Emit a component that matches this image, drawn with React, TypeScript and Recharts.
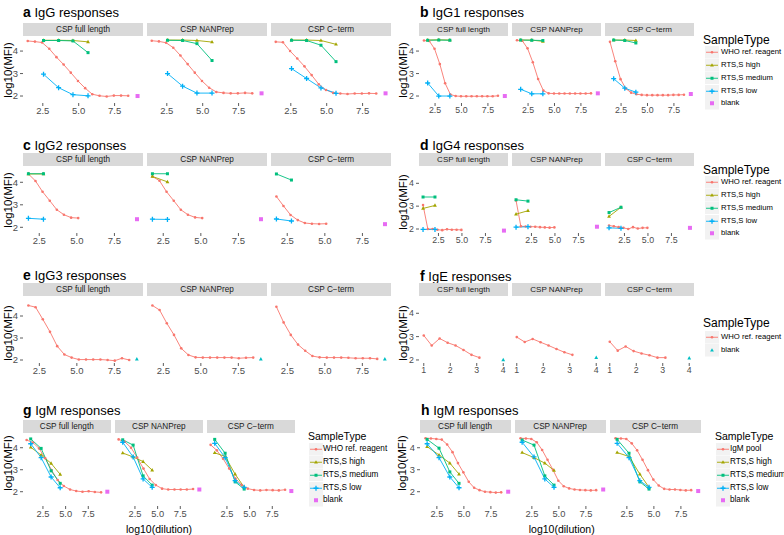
import { LineChart, Line, XAxis, YAxis } from "recharts";

const FONT = "'Liberation Sans', Arial, Helvetica, sans-serif";

const RED = "#F8766D";
const OLIVE = "#A3A500";
const GREEN = "#00BF7D";
const BLUE = "#00B0F6";
const PINK = "#E76BF3";
const TEAL = "#00BFC4";

const STRIPS = ["CSP full length", "CSP NANPrep", "CSP C\u2212term"];

// a: IgG
const aWhoX = [1.45, 1.95, 2.45, 2.95, 3.45, 3.95, 4.45, 4.95, 5.45, 5.95, 6.45, 6.95, 7.45, 7.95, 8.45];
const aRtsX = [2.55, 3.6, 4.6, 5.65];
const aWho = [
  [4.45, 4.42, 4.38, 4.1, 3.73, 3.4, 3.04, 2.67, 2.35, 2.08, 2.01, 1.98, 2.02, 2.02, 2.01],
  [4.46, 4.43, 4.37, 4.15, 3.8, 3.42, 3.04, 2.67, 2.37, 2.18, 2.14, 2.12, 2.12, 2.14, 2.12],
  [4.41, 4.39, 4.0, 3.67, 3.32, 2.93, 2.52, 2.27, 2.14, 2.11, 2.09, 2.11, 2.11, 2.12, 2.11],
];
const aHigh = [[4.48, 4.48, 4.47, 4.41], [4.49, 4.49, 4.47, 4.4], [4.49, 4.49, 4.47, 4.3]];
const aMed = [[4.47, 4.47, 4.45, 3.93], [4.48, 4.47, 4.33, 3.58], [4.48, 4.47, 4.26, 3.53]];
const aLow = [[2.97, 2.37, 2.06, 2.01], [3.0, 2.44, 2.13, 2.13], [3.22, 2.78, 2.36, 2.12]];
const aBlank = [2.0, 2.12, 2.12];

// b: IgG1
const bWhoX = [1.45, 1.95, 2.45, 2.95, 3.45, 3.95, 4.45, 4.95, 5.45, 5.95, 6.45, 6.95, 7.45, 7.95, 8.45];
const bRtsX = [1.8, 2.85, 3.9];
const bWho = [
  [4.47, 4.45, 4.1, 3.42, 2.57, 2.07, 2.0, 1.99, 1.99, 1.99, 1.99, 1.99, 1.99, 1.99, 2.01],
  [4.48, 4.46, 4.12, 3.5, 2.76, 2.24, 2.12, 2.11, 2.11, 2.11, 2.11, 2.11, 2.11, 2.11, 2.12],
  [4.41, 3.55, 2.75, 2.33, 2.15, 2.08, 2.05, 2.04, 2.04, 2.04, 2.04, 2.04, 2.05, 2.05, 2.06],
];
const bHigh = [[4.49, 4.5, 4.49], [4.49, 4.49, 4.43], [4.49, 4.49, 4.47]];
const bMed = [[4.48, 4.49, 4.48], [4.49, 4.48, 4.47], [4.49, 4.47, 4.36]];
const bLow = [[2.58, 2.0, 2.0], [2.3, 2.1, 2.1], [2.77, 2.35, 2.17]];
const bBlank = [2.0, 2.12, 2.09];

// c: IgG2
const cWhoX = [1.78, 2.25, 2.72, 3.2, 3.67, 4.14, 4.62, 5.09];
const cRtsX = [1.78, 2.78];
const cWho = [
  [4.37, 4.06, 3.58, 3.18, 2.78, 2.56, 2.43, 2.41],
  [4.26, 4.07, 3.58, 3.18, 2.78, 2.56, 2.44, 2.41],
  [3.37, 2.95, 2.55, 2.32, 2.19, 2.16, 2.15, 2.16],
];
const cHigh = [[4.37, 4.37], [4.26, 4.02], []];
const cMed = [[4.38, 4.38], [4.38, 4.38], [4.37, 4.1]];
const cLow = [[2.4, 2.36], [2.36, 2.35], [2.37, 2.28]];
const cBlank = [2.36, 2.36, 2.14];

// d: IgG4
const dWhoX = [0.86, 1.37, 1.88, 2.39, 2.9, 3.41, 3.92, 4.43, 4.94];
const dRtsX = [0.86, 2.13];
const dWho = [
  [3.05, 2.0, 2.0, 1.97, 1.95, 1.99, 1.97, 1.97, 1.96],
  [3.25, 2.12, 2.11, 2.1, 2.1, 2.08, 2.07, 2.06, 2.07],
  [2.15, 2.12, 2.08, 2.05, 2.0, 2.08, 2.02, 2.05, 2.05],
];
const dHigh = [[2.9, 3.03], [2.65, 2.8], [2.55, 2.95]];
const dMed = [[3.4, 3.4], [3.28, 3.22], [2.72, 2.95]];
const dLow = [[1.98, 1.98], [2.08, 2.1], [2.05, 2.03]];
const dBlank = [1.93, 2.1, 2.05];

// e: IgG3
const eWhoX = [1.77, 2.25, 2.73, 3.21, 3.69, 4.17, 4.65, 5.13, 5.61, 6.09, 6.57, 7.05, 7.53, 8.01, 8.49];
const eWho = [
  [4.48, 4.4, 3.85, 3.28, 2.63, 2.25, 2.11, 2.02, 2.02, 2.02, 2.02, 2.0, 1.97, 2.08, 2.0],
  [4.48, 4.27, 3.67, 3.14, 2.53, 2.23, 2.12, 2.11, 2.11, 2.11, 2.11, 2.11, 2.08, 2.1, 2.11],
  [4.42, 3.71, 3.14, 2.7, 2.42, 2.18, 2.12, 2.11, 2.11, 2.11, 2.1, 2.08, 2.08, 2.08, 2.05],
];
const eBlank = [2.04, 2.04, 2.04];

// f: IgE
const fWhoX = [1.0, 1.3, 1.6, 1.9, 2.2, 2.5, 2.8, 3.1];
const fWho = [
  [3.05, 2.62, 2.92, 2.74, 2.62, 2.43, 2.22, 2.1],
  [2.98, 2.77, 2.9, 2.76, 2.62, 2.47, 2.33, 2.22],
  [2.78, 2.4, 2.58, 2.38, 2.28, 2.2, 2.1, 2.1],
];
const fBlank = [2.0, 2.1, 2.08];

// g: IgM vs WHO reagent
const gWhoX = [0.7, 1.38, 2.07, 2.75, 3.44, 4.12, 4.8, 5.49, 6.17, 6.86, 7.54, 8.22, 8.91];
const gRtsX = [1.15, 2.3, 3.4, 4.4];
const gWho = [
  [4.35, 4.24, 3.97, 3.52, 2.99, 2.53, 2.26, 2.1, 2.03, 2.0, 2.02, 1.99, 1.97],
  [4.38, 4.27, 4.0, 3.55, 3.05, 2.58, 2.3, 2.14, 2.1, 2.1, 2.1, 2.1, 2.12],
  [4.13, 3.88, 3.5, 3.05, 2.6, 2.3, 2.14, 2.08, 2.06, 2.08, 2.07, 2.06, 2.09],
];
const gHigh = [[4.02, 3.67, 3.29, 2.79], [3.76, 3.58, 3.37, 2.98], [3.77, 3.6, 2.8, 2.2]];
const gMed = [[4.4, 3.97, 2.95, 2.38], [4.36, 4.12, 2.72, 2.3], [4.38, 3.75, 2.45, 2.12]];
const gLow = [[4.18, 3.55, 2.67, 2.18], [4.25, 3.58, 2.58, 2.2], [4.2, 3.55, 2.5, 2.2]];
const gBlank = [2.0, 2.1, 2.03];

// h: IgM vs IgM pool
const hPoolX = [1.45, 1.95, 2.45, 2.95, 3.45, 3.95, 4.45, 4.95, 5.45, 5.95, 6.45, 6.95, 7.45, 7.95, 8.45];
const hRtsX = [1.6, 2.7, 3.7, 4.55];
const hPool = [
  [4.43, 4.42, 4.4, 4.37, 4.15, 3.8, 3.3, 2.88, 2.45, 2.18, 2.07, 2.0, 1.98, 1.96, 1.97],
  [4.43, 4.42, 4.4, 4.25, 3.9, 3.45, 3.0, 2.5, 2.25, 2.15, 2.1, 2.08, 2.07, 2.06, 2.07],
  [4.43, 4.42, 4.4, 4.2, 3.88, 3.45, 2.98, 2.55, 2.28, 2.13, 2.1, 2.1, 2.08, 2.06, 2.07],
];
const hHigh = [[4.05, 3.67, 3.3, 2.8], [3.78, 3.55, 3.3, 2.97], [3.78, 3.6, 2.8, 2.2]];
const hMed = [[4.38, 3.98, 2.9, 2.38], [4.35, 4.12, 2.72, 2.3], [4.38, 3.75, 2.45, 2.12]];
const hLow = [[4.18, 3.55, 2.67, 2.18], [4.25, 3.58, 2.58, 2.2], [4.2, 3.55, 2.5, 2.2]];
const hBlank = [2.0, 2.1, 2.03];

type Shape = "circle" | "triangle" | "square" | "plus" | "box";
type Series = { xs: number[]; ys: number[]; color: string; shape: Shape; line: boolean };
type LegendItem = { label: string; color: string; shape: Shape; line: boolean };

function Marker({ cx, cy, shape, color }: { cx?: number; cy?: number; shape: Shape; color: string }) {
  if (cx == null || cy == null) return null;
  if (shape === "circle") return <circle cx={cx} cy={cy} r={1.3} fill={color} />;
  if (shape === "triangle")
    return <path d={`M${cx},${cy - 2.1}L${cx + 1.9},${cy + 1.3}L${cx - 1.9},${cy + 1.3}Z`} fill={color} />;
  if (shape === "square") return <rect x={cx - 1.5} y={cy - 1.5} width={3} height={3} fill={color} />;
  if (shape === "plus")
    return (
      <path d={`M${cx - 2.5},${cy}H${cx + 2.5}M${cx},${cy - 2.5}V${cy + 2.5}`} stroke={color} strokeWidth={1.3} fill="none" />
    );
  return <rect x={cx - 2} y={cy - 2} width={4} height={4} fill={color} />;
}

// five sample groups for one facet
function fiveGroups(
  whoX: number[], who: number[], rtsX: number[], high: number[], med: number[], low: number[],
  blankX: number, blank: number,
): Series[] {
  return [
    { xs: whoX, ys: who, color: RED, shape: "circle", line: true },
    { xs: rtsX, ys: high, color: OLIVE, shape: "triangle", line: true },
    { xs: rtsX, ys: med, color: GREEN, shape: "square", line: true },
    { xs: rtsX, ys: low, color: BLUE, shape: "plus", line: true },
    { xs: [blankX], ys: [blank], color: PINK, shape: "box", line: false },
  ];
}

function twoGroups(whoX: number[], who: number[], blankX: number, blank: number): Series[] {
  return [
    { xs: whoX, ys: who, color: RED, shape: "circle", line: true },
    { xs: [blankX], ys: [blank], color: TEAL, shape: "triangle", line: false },
  ];
}

const fiveLegend = (first: string): LegendItem[] => [
  { label: first, color: RED, shape: "circle", line: true },
  { label: "RTS,S high", color: OLIVE, shape: "triangle", line: true },
  { label: "RTS,S medium", color: GREEN, shape: "square", line: true },
  { label: "RTS,S low", color: BLUE, shape: "plus", line: true },
  { label: "blank", color: PINK, shape: "box", line: false },
];

const twoLegend: LegendItem[] = [
  { label: "WHO ref. reagent", color: RED, shape: "circle", line: true },
  { label: "blank", color: TEAL, shape: "triangle", line: false },
];

const facetIdx = [0, 1, 2];

interface PanelDef {
  letter: string;
  name: string;
  titleX: number;
  titleY: number;
  stripTop: number;
  plotTop: number;
  plotH: number;
  lefts: number[];
  width: number;
  xDomain: [number, number];
  yDomain: [number, number];
  xTicks: number[];
  yTitle: [number, number];
  tickFont: number;
  stripFont: number;
  series: Series[][];
  legend?: {
    titleX: number; titleY: number; titleSize: number; textSize: number;
    rowY: number; keyX: number; textX: number; items: LegendItem[];
  };
  xTitle?: [number, number];
}

const LEFT = [23, 147, 271];
const RIGHT = [419, 512, 605];

const panels: PanelDef[] = [
  {
    letter: "a", name: "IgG responses", titleX: 23, titleY: 12, stripTop: 23, plotTop: 36, plotH: 67,
    lefts: LEFT, width: 120, xDomain: [1.12, 9.48], yDomain: [1.69, 4.67], xTicks: [2.5, 5, 7.5],
    yTitle: [7.5, 70], tickFont: 9.5, stripFont: 8.2,
    series: facetIdx.map((i) => fiveGroups(aWhoX, aWho[i], aRtsX, aHigh[i], aMed[i], aLow[i], 9.1, aBlank[i])),
  },
  {
    letter: "b", name: "IgG1 responses", titleX: 420, titleY: 12, stripTop: 23, plotTop: 36, plotH: 67,
    lefts: RIGHT, width: 89, xDomain: [0.98, 9.4], yDomain: [1.69, 4.67], xTicks: [2.5, 5, 7.5],
    yTitle: [403, 70], tickFont: 8.8, stripFont: 8,
    series: facetIdx.map((i) => fiveGroups(bWhoX, bWho[i], bRtsX, bHigh[i], bMed[i], bLow[i], 9.1, bBlank[i])),
    legend: { titleX: 703, titleY: 40, titleSize: 12, textSize: 7.7, rowY: 52.5, keyX: 705, textX: 721, items: fiveLegend("WHO ref. reagent") },
  },
  {
    letter: "c", name: "IgG2 responses", titleX: 23, titleY: 145, stripTop: 153, plotTop: 166, plotH: 67,
    lefts: LEFT, width: 120, xDomain: [1.42, 9.4], yDomain: [1.747, 4.724], xTicks: [2.5, 5, 7.5],
    yTitle: [7.5, 200], tickFont: 9.5, stripFont: 8.2,
    series: facetIdx.map((i) => fiveGroups(cWhoX, cWho[i], cRtsX, cHigh[i], cMed[i], cLow[i], 9.0, cBlank[i])),
  },
  {
    letter: "d", name: "IgG4 responses", titleX: 420, titleY: 145, stripTop: 153, plotTop: 166, plotH: 67,
    lefts: RIGHT, width: 89, xDomain: [0.43, 9.9], yDomain: [1.825, 4.757], xTicks: [2.5, 5, 7.5],
    yTitle: [403, 202], tickFont: 8.8, stripFont: 8,
    series: facetIdx.map((i) => fiveGroups(dWhoX, dWho[i], dRtsX, dHigh[i], dMed[i], dLow[i], 9.47, dBlank[i])),
    legend: { titleX: 703, titleY: 170, titleSize: 12, textSize: 7.7, rowY: 182.5, keyX: 705, textX: 721, items: fiveLegend("WHO ref. reagent") },
  },
  {
    letter: "e", name: "IgG3 responses", titleX: 23, titleY: 275, stripTop: 283, plotTop: 296, plotH: 67,
    lefts: LEFT, width: 120, xDomain: [1.41, 9.41], yDomain: [1.864, 4.909], xTicks: [2.5, 5, 7.5],
    yTitle: [7.5, 333], tickFont: 9.5, stripFont: 8.2,
    series: facetIdx.map((i) => twoGroups(eWhoX, eWho[i], 9.0, eBlank[i])),
  },
  {
    letter: "f", name: "IgE responses", titleX: 420, titleY: 276, stripTop: 283, plotTop: 296, plotH: 67,
    lefts: RIGHT, width: 89, xDomain: [0.82, 4.18], yDomain: [1.87, 4.74], xTicks: [1, 2, 3, 4],
    yTitle: [403, 333], tickFont: 8.8, stripFont: 8,
    series: facetIdx.map((i) => twoGroups(fWhoX, fWho[i], 4.0, fBlank[i])),
    legend: { titleX: 703, titleY: 323, titleSize: 12, textSize: 7.7, rowY: 337.5, keyX: 705, textX: 721, items: twoLegend },
  },
  {
    letter: "g", name: "IgM responses", titleX: 23, titleY: 410, stripTop: 420, plotTop: 433, plotH: 73,
    lefts: [23, 115, 207], width: 87.5, xDomain: [0.3, 9.95], yDomain: [1.35, 4.67], xTicks: [2.5, 5, 7.5],
    yTitle: [7.5, 463], tickFont: 9.3, stripFont: 8.2,
    series: facetIdx.map((i) => fiveGroups(gWhoX, gWho[i], gRtsX, gHigh[i], gMed[i], gLow[i], 9.6, gBlank[i])),
    legend: { titleX: 308, titleY: 436, titleSize: 10.5, textSize: 8.2, rowY: 449.5, keyX: 308.5, textX: 323, items: fiveLegend("WHO ref. reagent") },
    xTitle: [159, 529],
  },
  {
    letter: "h", name: "IgM responses", titleX: 421, titleY: 410, stripTop: 420, plotTop: 433, plotH: 73,
    lefts: [419.5, 514.5, 609.5], width: 91, xDomain: [0.94, 9.36], yDomain: [1.35, 4.67], xTicks: [2.5, 5, 7.5],
    yTitle: [402, 463], tickFont: 9.3, stripFont: 8.2,
    series: facetIdx.map((i) => fiveGroups(hPoolX, hPool[i], hRtsX, hHigh[i], hMed[i], hLow[i], 9.1, hBlank[i])),
    legend: { titleX: 715, titleY: 436, titleSize: 10.5, textSize: 8.2, rowY: 449.5, keyX: 716, textX: 730, items: fiveLegend("IgM pool") },
    xTitle: [561.7, 529],
  },
];

function Facet({ p, i }: { p: PanelDef; i: number }) {
  const yAxisW = i === 0 ? 16 : 0;
  const axisH = 16;
  const tickStyle = { fill: "#4D4D4D", fontSize: p.tickFont, fontFamily: FONT };
  const fmt = (v: number) => (p.xTicks[0] === 1 ? String(v) : v.toFixed(1));
  return (
    <div style={{ position: "absolute", left: p.lefts[i] - yAxisW, top: p.plotTop }}>
      <LineChart width={p.width + yAxisW} height={p.plotH + axisH} margin={{ top: 0, right: 0, bottom: 0, left: 0 }}>
        <XAxis
          type="number"
          dataKey="x"
          domain={p.xDomain}
          ticks={p.xTicks}
          interval={0}
          allowDataOverflow
          tickFormatter={fmt}
          axisLine={false}
          tickSize={3}
          tickMargin={1}
          tickLine={{ stroke: "#333333", strokeWidth: 0.8 }}
          tick={tickStyle}
          height={axisH}
        />
        <YAxis
          type="number"
          dataKey="y"
          domain={p.yDomain}
          ticks={[2, 3, 4]}
          interval={0}
          allowDataOverflow
          hide={yAxisW === 0}
          width={yAxisW}
          axisLine={false}
          tickSize={3}
          tickMargin={2}
          tickLine={{ stroke: "#333333", strokeWidth: 0.8 }}
          tick={tickStyle}
        />
        {p.series[i].map((s, k) => (
          <Line
            key={k}
            data={s.xs.map((x, j) => ({ x, y: s.ys[j] }))}
            dataKey="y"
            type="linear"
            stroke={s.line ? s.color : "none"}
            strokeWidth={0.9}
            activeDot={false}
            isAnimationActive={false}
            dot={(d: any) => <Marker key={`d${k}-${d.index}`} cx={d.cx} cy={d.cy} shape={s.shape} color={s.color} />}
          />
        ))}
      </LineChart>
    </div>
  );
}

function KeyIcon({ item }: { item: LegendItem }) {
  return (
    <svg width={14} height={12.5} style={{ display: "block" }}>
      <rect x={0} y={0} width={14} height={12.5} fill="#F2F2F2" />
      {item.line && <line x1={1} x2={13} y1={6.25} y2={6.25} stroke={item.color} strokeWidth={0.9} />}
      <Marker cx={7} cy={6.25} shape={item.shape} color={item.color} />
    </svg>
  );
}

function Legend({ l }: { l: NonNullable<PanelDef["legend"]> }) {
  return (
    <>
      <div
        style={{
          position: "absolute",
          left: l.titleX,
          top: l.titleY - 6,
          lineHeight: "12px",
          fontSize: l.titleSize,
          color: "#000",
          whiteSpace: "nowrap",
        }}
      >
        SampleType
      </div>
      {l.items.map((it, k) => (
        <div key={k} style={{ position: "absolute", left: l.keyX, top: l.rowY + k * 12.8 - 6.25 }}>
          <KeyIcon item={it} />
          <div
            style={{
              position: "absolute",
              left: l.textX - l.keyX,
              top: 0,
              lineHeight: "12.5px",
              fontSize: l.textSize,
              color: "#000",
              whiteSpace: "nowrap",
            }}
          >
            {it.label}
          </div>
        </div>
      ))}
    </>
  );
}

function PanelView({ p }: { p: PanelDef }) {
  return (
    <>
      <div style={{ position: "absolute", left: p.titleX, top: p.titleY - 8, lineHeight: "16px", fontSize: 13, color: "#000", whiteSpace: "nowrap" }}>
        <b style={{ fontSize: 14 }}>{p.letter}</b> {p.name}
      </div>
      {facetIdx.map((i) => (
        <div
          key={`s${i}`}
          style={{
            position: "absolute",
            left: p.lefts[i],
            top: p.stripTop,
            width: p.width,
            height: p.plotTop - p.stripTop,
            lineHeight: `${p.plotTop - p.stripTop}px`,
            background: "#D9D9D9",
            color: "#1A1A1A",
            fontSize: p.stripFont,
            textAlign: "center",
            whiteSpace: "nowrap",
          }}
        >
          {STRIPS[i]}
        </div>
      ))}
      {facetIdx.map((i) => (
        <Facet key={`f${i}`} p={p} i={i} />
      ))}
      <div
        style={{
          position: "absolute",
          left: p.yTitle[0],
          top: p.yTitle[1],
          transform: "translate(-50%, -50%) rotate(-90deg)",
          fontSize: 11.5,
          whiteSpace: "nowrap",
          color: "#000",
        }}
      >
        log10(MFI)
      </div>
      {p.xTitle && (
        <div
          style={{
            position: "absolute",
            left: p.xTitle[0],
            top: p.xTitle[1],
            transform: "translate(-50%, -50%)",
            fontSize: 10.5,
            whiteSpace: "nowrap",
            color: "#000",
          }}
        >
          log10(dilution)
        </div>
      )}
      {p.legend && <Legend l={p.legend} />}
    </>
  );
}

export default function App() {
  return (
    <div
      style={{
        position: "absolute",
        left: 0,
        top: 0,
        width: 784,
        height: 535,
        background: "#fff",
        fontFamily: FONT,
        overflow: "hidden",
      }}
    >
      {panels.map((p) => (
        <PanelView key={p.letter} p={p} />
      ))}
    </div>
  );
}
